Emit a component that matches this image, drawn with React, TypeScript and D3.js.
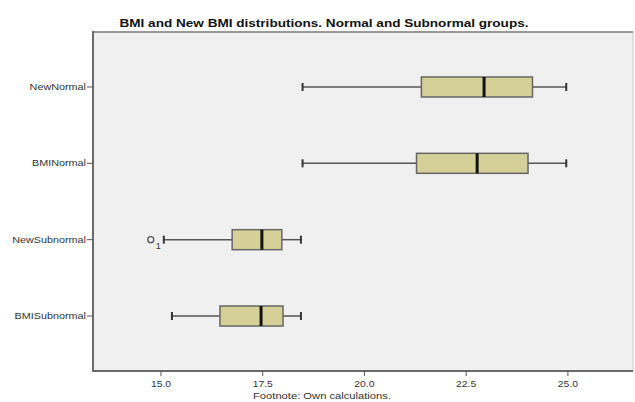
import React, { useEffect } from "react";
import * as d3 from "d3";

// groups top to bottom
const groups = ["NewNormal", "BMINormal", "NewSubnormal", "BMISubnormal"];
const mins = [18.48, 18.48, 15.07, 15.27];
const q1s = [21.4, 21.28, 16.75, 16.45];
const medians = [22.94, 22.77, 17.48, 17.46];
const q3s = [24.13, 24.02, 17.97, 18.0];
const maxs = [24.96, 24.96, 18.44, 18.44];
const outliers = [{ group: "NewSubnormal", value: 14.75, label: "1" }];
const xTicks = [15, 17.5, 20, 22.5, 25];

const W = 635;
const H = 402;
const plot = { left: 93, right: 633, top: 32, bottom: 371 };

export default function App() {
  useEffect(() => {
    document.body.style.margin = "0";
  }, []);

  const x = d3.scaleLinear().domain([13.33, 26.6]).range([plot.left, plot.right]);
  const y = d3.scalePoint().domain(groups).range([plot.top, plot.bottom]).padding(0.72);
  const boxH = 20;
  const capH = 8;
  const font = "'Liberation Sans', Arial, sans-serif";

  return (
    <svg width={W} height={H} style={{ display: "block" }} fontFamily={font}>
      <rect width={W} height={H} fill="#fff" />
      <text
        x={324}
        y={27}
        textAnchor="middle"
        fontSize={10}
        fontWeight="bold"
        fill="#111"
        textLength={409}
        lengthAdjust="spacingAndGlyphs"
      >
        BMI and New BMI distributions. Normal and Subnormal groups.
      </text>

      {/* plot frame */}
      <rect
        x={plot.left}
        y={plot.top}
        width={plot.right - plot.left}
        height={plot.bottom - plot.top}
        fill="#f0f0f0"
        stroke="#c8c8c8"
        strokeWidth={1}
      />
      <line x1={plot.left} x2={plot.right} y1={plot.top} y2={plot.top} stroke="#9a9a9a" strokeWidth={2} />
      <line x1={plot.left} x2={plot.left} y1={plot.top - 1} y2={plot.bottom + 1} stroke="#6a6a6a" strokeWidth={2} />
      <line x1={plot.left} x2={plot.right} y1={plot.bottom} y2={plot.bottom} stroke="#6a6a6a" strokeWidth={2} />

      {/* y axis labels */}
      {groups.map((g) => (
        <g key={g} transform={`translate(0,${y(g)})`}>
          <line x1={plot.left - 6} x2={plot.left} stroke="#555" strokeWidth={1} />
          <text
            transform={`translate(${plot.left - 7},3) scale(1.2,1)`}
            textAnchor="end"
            fontSize={9}
            fill="#333"
          >
            {g}
          </text>
        </g>
      ))}

      {/* x axis ticks */}
      {xTicks.map((t) => (
        <g key={t} transform={`translate(${x(t)},${plot.bottom})`}>
          <line y1={0} y2={5} stroke="#555" strokeWidth={1} />
          <text transform="translate(0,16) scale(1.15,1)" textAnchor="middle" fontSize={9} fill="#333">
            {d3.format(".1f")(t)}
          </text>
        </g>
      ))}
      <text
        x={322}
        y={399}
        textAnchor="middle"
        fontSize={9}
        fill="#333"
        textLength={138}
        lengthAdjust="spacingAndGlyphs"
      >
        Footnote: Own calculations.
      </text>

      {/* boxes */}
      {groups.map((g, i) => {
        const cy = y(g) as number;
        return (
          <g key={g}>
            <line x1={x(mins[i])} x2={x(q1s[i])} y1={cy} y2={cy} stroke="#555" strokeWidth={1.5} />
            <line x1={x(q3s[i])} x2={x(maxs[i])} y1={cy} y2={cy} stroke="#555" strokeWidth={1.5} />
            <line x1={x(mins[i])} x2={x(mins[i])} y1={cy - capH / 2} y2={cy + capH / 2} stroke="#333" strokeWidth={2} />
            <line x1={x(maxs[i])} x2={x(maxs[i])} y1={cy - capH / 2} y2={cy + capH / 2} stroke="#333" strokeWidth={2} />
            <rect
              x={x(q1s[i])}
              y={cy - boxH / 2}
              width={x(q3s[i]) - x(q1s[i])}
              height={boxH}
              fill="#d5d098"
              stroke="#666"
              strokeWidth={1.5}
            />
            <line
              x1={x(medians[i])}
              x2={x(medians[i])}
              y1={cy - boxH / 2}
              y2={cy + boxH / 2}
              stroke="#111"
              strokeWidth={3}
            />
          </g>
        );
      })}

      {/* outliers */}
      {outliers.map((o) => {
        const cy = y(o.group) as number;
        return (
          <g key={o.label}>
            <circle cx={x(o.value)} cy={cy} r={3} fill="none" stroke="#555" strokeWidth={1.3} />
            <text x={x(o.value) + 5} y={cy + 9} fontSize={9} fill="#333">
              {o.label}
            </text>
          </g>
        );
      })}
    </svg>
  );
}
